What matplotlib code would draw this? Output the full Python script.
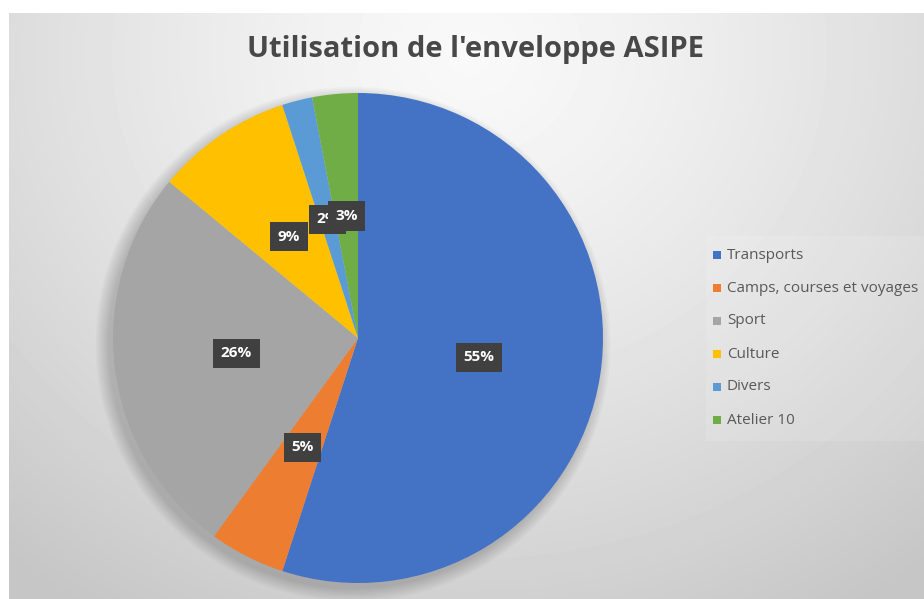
import numpy as np
import matplotlib.pyplot as plt
from matplotlib.patches import Circle, Rectangle

# donnees
categories = ["Transports", "Camps, courses et voyages", "Sport", "Culture", "Divers", "Atelier 10"]
valeurs = [55, 5, 26, 9, 2, 3]
couleurs = ["#4472C4", "#ED7D31", "#A5A5A5", "#FFC000", "#5B9BD5", "#70AD47"]
titre = "Utilisation de l'enveloppe ASIPE"

plt.rcParams['font.family'] = ['Open Sans', 'DejaVu Sans']

W, H = 924, 599
fig = plt.figure(figsize=(W / 100, H / 100), dpi=100)
fig.patch.set_facecolor("white")

# fond avec degrade radial
fond = fig.add_axes([9 / W, 0, 1 - 9 / W, 1 - 13 / H])
yy, xx = np.mgrid[0:586, 0:915]
d = np.sqrt((xx - 460) ** 2 + ((yy - 40) * 1.1) ** 2)
gris = 0.975 - 0.2 * np.clip(d / 720, 0, 1) ** 1.3
fond.imshow(gris, cmap="gray", vmin=0, vmax=1, aspect="auto", interpolation="bilinear")
fond.set_axis_off()

# petit cadre clair de la legende
fond.add_patch(Rectangle((696, 222), 219, 205, color="white", alpha=0.12, lw=0))

# camembert
ax = fig.add_axes([113 / W, 16 / H, 490 / W, 490 / H])
ax.set_aspect("equal")
ax.set_axis_off()

# ombre douce
for r in np.linspace(1.05, 1.0, 8):
    ax.add_patch(Circle((-0.02, -0.025), r, color="black", alpha=0.022, lw=0, clip_on=False))

wedges, texts, autotexts = ax.pie(
    valeurs, colors=couleurs, startangle=90, counterclock=False,
    autopct="%1.0f%%", pctdistance=0.5, radius=1.0,
    wedgeprops=dict(linewidth=0),
    textprops=dict(color="white", fontsize=11, fontweight="bold"))
ax.set_xlim(-1.0, 1.0)
ax.set_ylim(-1.0, 1.0)

for t in autotexts:
    t.set_bbox(dict(boxstyle="square,pad=0.5", fc="#404040", ec="none"))

fig.text(475 / W, 1 - 50 / H, titre, ha="center", va="center",
         fontsize=21, fontweight="bold", color="#484848")

# legende
y0 = 255
for i, (cat, c) in enumerate(zip(categories, couleurs)):
    y = y0 + i * 33
    fig.patches.append(Rectangle((713 / W, 1 - (y + 4) / H), 8 / W, 8 / H,
                                 transform=fig.transFigure, color=c, lw=0))
    fig.text(727 / W, 1 - y / H, cat, ha="left", va="center",
             fontsize=11, color="#595959")

fig.savefig("out.png", dpi=100)
